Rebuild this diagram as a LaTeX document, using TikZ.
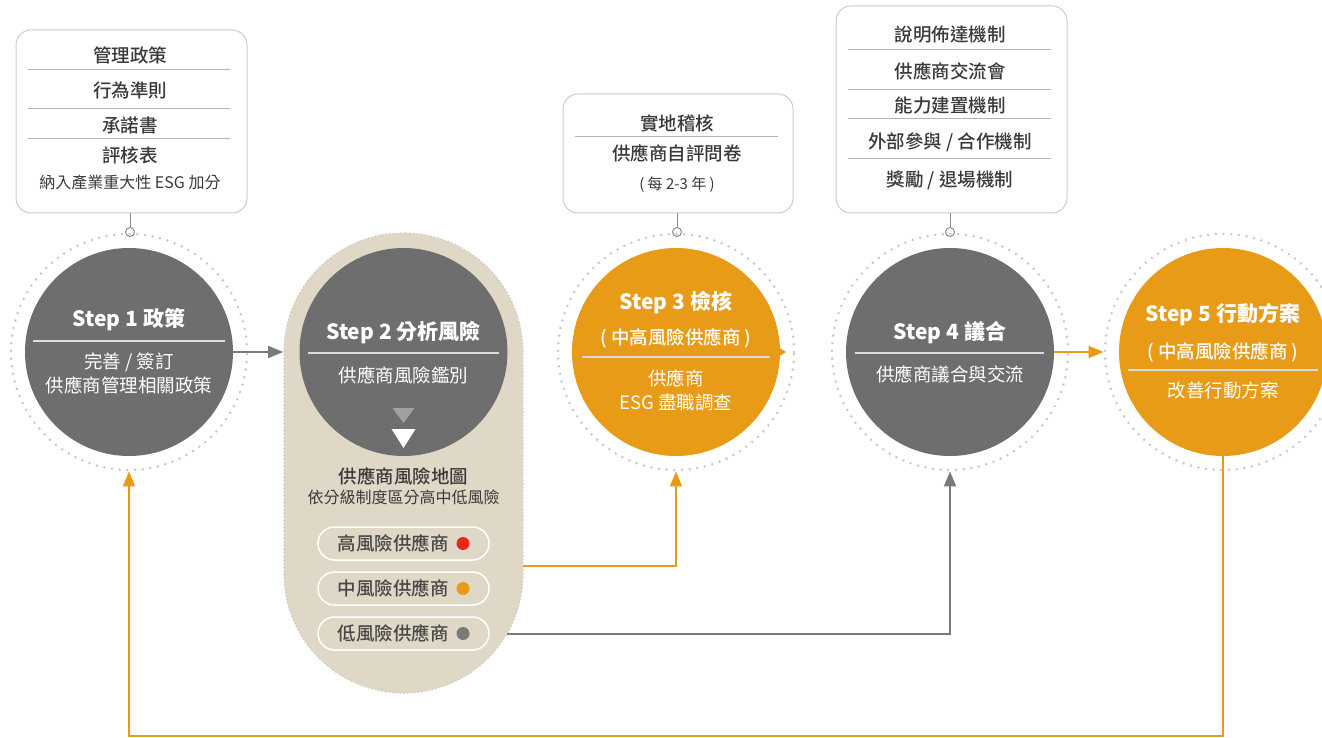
\documentclass[tikz,border=0pt]{standalone}
\usepackage{fontspec}
\setmainfont{Noto Sans CJK TC}
\newfontfamily\medf{Noto Sans CJK TC Medium}
\usetikzlibrary{arrows.meta}
\definecolor{dgray}{HTML}{6E6E6E}
\definecolor{org}{HTML}{E89B16}
\definecolor{beige}{HTML}{E0D8C7}
\definecolor{dotc}{HTML}{C8C8C8}
\definecolor{txt}{HTML}{3A3A3A}
\definecolor{pillc}{HTML}{474747}
\definecolor{sepc}{HTML}{B4B4B4}
\definecolor{boxc}{HTML}{CCCCCC}
\definecolor{knobc}{HTML}{8C8C8C}
\definecolor{arrg}{HTML}{7A7A7A}
\definecolor{redd}{HTML}{E8281E}
\definecolor{tri}{HTML}{A0A0A0}
\definecolor{csepc}{HTML}{DCDCDC}
\begin{document}
\begin{tikzpicture}[x=1pt,y=-1pt,
 ring/.style={circle, draw=dotc, line width=2.8pt, dash pattern=on 0pt off 7.7pt, line cap=round, minimum size=236pt, inner sep=0},
 stepc/.style={circle, minimum size=208pt, inner sep=0},
 tbox/.style={draw=boxc, line width=1pt, rounded corners=15pt, fill=white, inner sep=0},
 bt/.style={font=\fontsize{18.5}{20}\selectfont\medf, text=txt, inner sep=0},
 st/.style={font=\fontsize{16}{18}\selectfont, text=txt, inner sep=0},
 sm/.style={font=\fontsize{15}{17}\selectfont, text=txt, inner sep=0},
 ttl/.style={font=\fontsize{21}{24}\selectfont\bfseries, text=white, inner sep=0},
 sub/.style={font=\fontsize{18.5}{22}\selectfont, text=white, inner sep=0},
 subm/.style={font=\fontsize{18.5}{22}\selectfont\medf, text=white, inner sep=0},
 sepl/.style={draw=sepc, line width=1pt},
 csep/.style={draw=csepc, line width=1.5pt},
 knob/.style={circle, draw=knobc, fill=white, line width=1pt, minimum size=9pt, inner sep=0},
 knobline/.style={draw=knobc, line width=1pt},
 pill/.style={draw=white, line width=1.5pt, rounded corners=16.5pt, minimum width=171pt, minimum height=33pt, inner sep=0},
 pt/.style={font=\fontsize{18.5}{20}\selectfont\medf, text=pillc, inner sep=0},
 oarrow/.style={draw=org, line width=1.5pt, -{Triangle[length=15pt,width=12pt]}},
 garrow/.style={draw=arrg, line width=1.5pt, -{Triangle[length=15pt,width=12pt]}}
]
\clip (0,0) rectangle (1322,738);
\fill[white] (0,0) rectangle (1322,738);

% ---------- top boxes ----------
\node[tbox, minimum width=231pt, minimum height=183pt] (b1) at (131.5,121.5) {};
\node[bt] (b1a) at (130,55) {管理政策};
\draw[sepl] (28,70) -- (230,70);
\node[bt] (b1b) at (130,90) {行為準則};
\draw[sepl] (28,109) -- (230,109);
\node[bt] (b1c) at (130,125) {承諾書};
\draw[sepl] (28,139) -- (230,139);
\node[bt] (b1d) at (130,155) {評核表};
\node[st] (b1e) at (130,182) {納入產業重大性 ESG 加分};

\node[tbox, minimum width=230pt, minimum height=119pt] (b3) at (678,153.5) {};
\node[bt] (b3a) at (677,123) {實地稽核};
\draw[sepl] (575,137) -- (778,137);
\node[bt] (b3b) at (677,153) {供應商自評問卷};
\node[sm] (b3c) at (677,185) {( 每 2-3 年 )};

\node[tbox, minimum width=231pt, minimum height=207pt] (b4) at (951.5,109.5) {};
\node[bt] (b4a) at (950,35) {說明佈達機制};
\draw[sepl] (848,50) -- (1051,50);
\node[bt] (b4b) at (950,71) {供應商交流會};
\draw[sepl] (848,90) -- (1051,90);
\node[bt] (b4c) at (950,106) {能力建置機制};
\draw[sepl] (848,119) -- (1051,119);
\node[bt] (b4d) at (950,142) {外部參與 / 合作機制};
\draw[sepl] (848,159) -- (1051,159);
\node[bt] (b4e) at (950,180) {獎勵 / 退場機制};

% ---------- knobs ----------
\node[knob] (k1) at (130,232) {};
\node[knob] (k3) at (677,232) {};
\node[knob] (k4) at (950,232) {};
\draw[knobline] (k1.north |- b1.south) -- (k1.north);
\draw[knobline] (k3.north |- b3.south) -- (k3.north);
\draw[knobline] (k4.north |- b4.south) -- (k4.north);

% ---------- step 2 stadium ----------
\node[draw=dotc, fill=beige, line width=1.6pt, dash pattern=on 0pt off 3.6pt, line cap=round,
      rounded corners=119pt, minimum width=239pt, minimum height=460pt, inner sep=0] (s2) at (403.5,463) {};

% ---------- rings ----------
\node[ring] (r1) at (129,352) {};
\node[ring] (r3) at (676,352) {};
\node[ring] (r4) at (950,352) {};
\node[ring] (r5) at (1223,352) {};

% ---------- step 1 ----------
\node[stepc, fill=dgray] (c1) at (129,352) {};
\node[ttl] (t1) at (129,320) {Step 1 政策};
\draw[csep] (33,341) -- (225,341);
\node[sub] (u1a) at (129,362) {完善 / 簽訂};
\node[sub] (u1b) at (129,385) {供應商管理相關政策};

% ---------- step 2 ----------
\node[stepc, fill=dgray] (c2) at (403.5,352) {};
\node[ttl] (t2) at (403.5,333) {Step 2 分析風險};
\draw[csep] (308,353) -- (499,353);
\node[sub] (u2) at (403.5,375) {供應商風險鑑別};
\fill[tri] (392.5,408) -- (414.5,408) -- (403.5,423) -- cycle;
\fill[white] (391.5,429) -- (415.5,429) -- (403.5,448) -- cycle;
\node[bt] (m2) at (403.5,476) {供應商風險地圖};
\node[st] (m2b) at (403.5,497) {依分級制度區分高中低風險};
\node[pill] (p1) at (403.5,543.5) {};
\node[pt] (p1t) at (393,543.5) {高風險供應商};
\fill[redd] (463,543.5) circle (6.5);
\node[pill] (p2) at (403.5,588.5) {};
\node[pt] (p2t) at (393,588.5) {中風險供應商};
\fill[org] (463,588.5) circle (6.5);
\node[pill] (p3) at (403.5,633.5) {};
\node[pt] (p3t) at (393,633.5) {低風險供應商};
\fill[arrg] (463,633.5) circle (6.5);

% ---------- step 3 ----------
\node[stepc, fill=org] (c3) at (676,352) {};
\node[ttl] (t3) at (676,303) {Step 3 檢核};
\node[subm] (t3b) at (676,338) {( 中高風險供應商 )};
\draw[csep] (582,357) -- (770,357);
\node[sub] (u3a) at (676,378) {供應商};
\node[sub] (u3b) at (676,402) {ESG 盡職調查};
\draw[draw=org, line width=1.5pt, -{Triangle[length=6pt,width=7pt]}] (c3.east) -- ++(6,0);

% ---------- step 4 ----------
\node[stepc, fill=dgray] (c4) at (950,352) {};
\node[ttl] (t4) at (950,333) {Step 4 議合};
\draw[csep] (855,353) -- (1044,353);
\node[sub] (u4) at (950,374) {供應商議合與交流};

% ---------- step 5 ----------
\node[stepc, fill=org] (c5) at (1223,352) {};
\node[ttl] (t5) at (1223,315) {Step 5 行動方案};
\node[subm] (t5b) at (1223,352) {( 中高風險供應商 )};
\draw[csep] (1128,370) -- (1318,370);
\node[sub] (u5) at (1223,390) {改善行動方案};

% ---------- connectors ----------
\draw[garrow] (c1.east) -- (c1.east -| s2.west);
\draw[oarrow] (c4.east) -- (r5.west);
\coordinate (o1) at (523,566);
\draw[oarrow] (o1) -| (r3.south);
\coordinate (g1) at (507,634);
\draw[garrow] (g1) -| (r4.south);
\coordinate (lp) at (129,736);
\draw[oarrow] (c5.south) |- (lp) -- (r1.south);
\end{tikzpicture}
\end{document}
